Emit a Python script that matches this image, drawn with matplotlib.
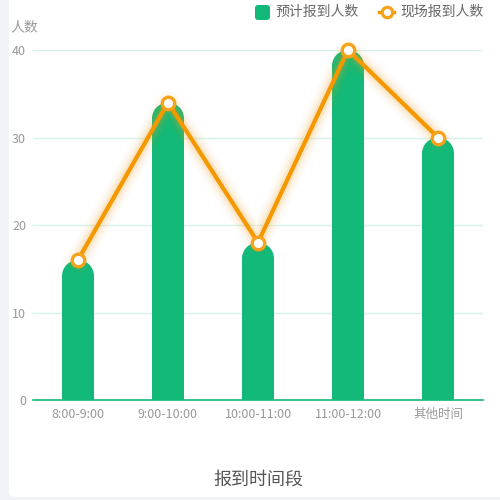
import numpy as np
import matplotlib
matplotlib.use('Agg')
import matplotlib.pyplot as plt
import matplotlib.patheffects as pe
from matplotlib.patches import Rectangle, Ellipse, FancyBboxPatch
from matplotlib.lines import Line2D

plt.rcParams['font.family'] = ['Noto Sans CJK SC', 'DejaVu Sans']

# data
categories = ['8:00-9:00', '9:00-10:00', '10:00-11:00', '11:00-12:00', '其他时间']
expected = [16, 34, 18, 40, 30]     # 预计报到人数
actual = [16, 34, 18, 40, 30]       # 现场报到人数
y_ticks = [0, 10, 20, 30, 40]

green = '#12b978'
orange = '#f59800'
grid_c = '#d6f3ea'
text_c = '#999999'

W, H = 500, 500
fig = plt.figure(figsize=(5, 5), dpi=100)
fig.patch.set_facecolor('#f2f3f8')

# white card
card = FancyBboxPatch((9 / W, 3 / H), 1.2, 1.2, boxstyle='round,pad=0,rounding_size=0.012',
                      transform=fig.transFigure, facecolor='white', edgecolor='none', zorder=-10)
fig.patches.append(card)

left, right, bottom, top = 33, 483, 400, 50
ax = fig.add_axes([left / W, (H - bottom) / H, (right - left) / W, (bottom - top) / H])
ax.set_facecolor('none')
x = np.arange(len(categories))
ax.set_xlim(-0.5, len(categories) - 0.5)
ax.set_ylim(0, 40)

# px per unit
px_x = (right - left) / len(categories)
px_y = (bottom - top) / 40.0
bar_w_px = 32
bw = bar_w_px / px_x
r_y = (bar_w_px / 2) / px_y

for xi, v in zip(x, expected):
    ax.add_patch(Rectangle((xi - bw / 2, 0), bw, v - r_y, facecolor=green, edgecolor='none', zorder=2))
    ax.add_patch(Ellipse((xi, v - r_y), bw, 2 * r_y, facecolor=green, edgecolor='none', zorder=2))

# soft glow for line
glow = [pe.Stroke(linewidth=w, foreground='#f7a21b', alpha=a) for w, a in
        [(18, 0.025), (14, 0.035), (11, 0.05), (8, 0.08), (5.5, 0.12)]] + [pe.Normal()]
ax.plot(x, actual, color=orange, lw=3, zorder=4, clip_on=False, path_effects=glow,
        solid_joinstyle='round')
ax.plot(x, actual, ls='none', marker='o', ms=9, mfc='white', mec='#f7a21b', mew=2.4,
        zorder=5, clip_on=False)

# grid & axes
for t in y_ticks[1:]:
    ax.axhline(t, color=grid_c, lw=1, zorder=1)
for s in ['top', 'right', 'left']:
    ax.spines[s].set_visible(False)
ax.spines['bottom'].set_color(green)
ax.spines['bottom'].set_linewidth(1.2)
ax.set_yticks(y_ticks)
ax.set_yticklabels([str(t) for t in y_ticks])
ax.set_xticks(x)
ax.set_xticklabels(categories)
ax.tick_params(axis='both', length=0, colors=text_c, labelsize=9)
ax.tick_params(axis='y', pad=5)
ax.tick_params(axis='x', pad=6)

fig.text(10 / W, (H - 27) / H, '人数', fontsize=10, color=text_c, va='center', ha='left')
fig.text(258 / W, (H - 480) / H, '报到时间段', fontsize=13, color='#555555', ha='center', va='center')

# legend
fig.patches.append(FancyBboxPatch((255 / W, (H - 20) / H), 15 / W, 15 / H,
                                  boxstyle='round,pad=0,rounding_size=0.006',
                                  transform=fig.transFigure, facecolor=green, edgecolor='none'))
fig.text(275 / W, (H - 12) / H, '预计报到人数', fontsize=10, color='#666666', va='center')
fig.lines.append(Line2D([379 / W, 394 / W], [(H - 12) / H] * 2, transform=fig.transFigure,
                        color=orange, lw=2.5))
fig.lines.append(Line2D([386.5 / W], [(H - 12) / H], transform=fig.transFigure, marker='o',
                        ms=7.5, mfc='white', mec='#f7a21b', mew=2.3))
fig.text(400 / W, (H - 12) / H, '现场报到人数', fontsize=10, color='#666666', va='center')

fig.savefig('out.png', dpi=100, facecolor=fig.get_facecolor())
